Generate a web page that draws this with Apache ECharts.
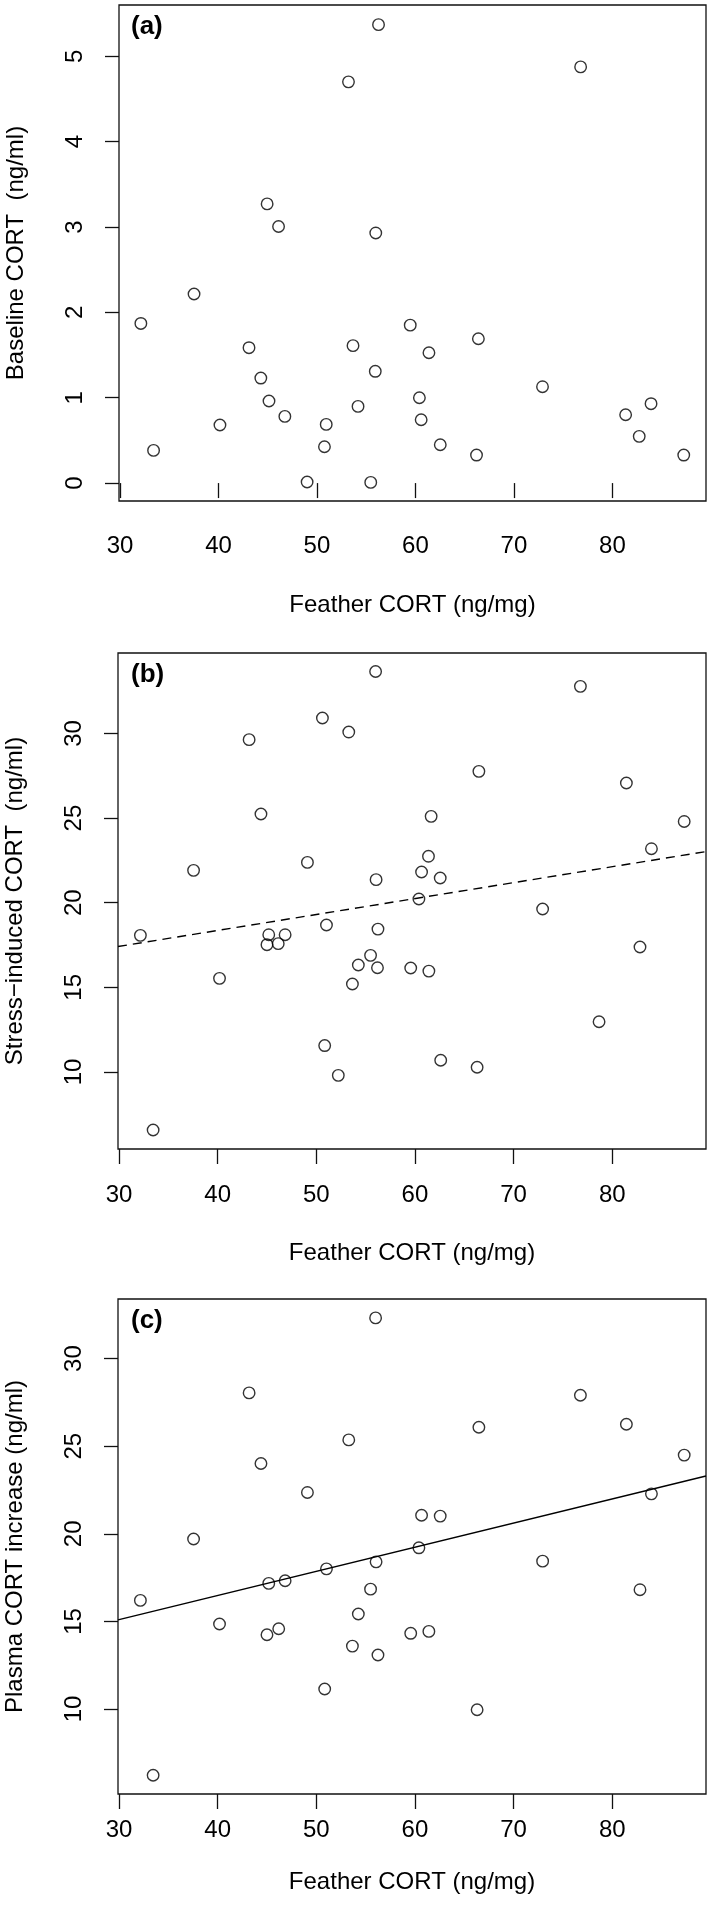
<!DOCTYPE html>
<html>
<head>
<meta charset="utf-8">
<script src="https://cdn.jsdelivr.net/npm/echarts@6/dist/echarts.min.js"></script>
<style>
html,body{margin:0;padding:0;background:#fff;}
#chart{width:709px;height:1917px;}
</style>
</head>
<body>
<div id="chart"></div>
<script>
// ---------- data ----------
const xTickValues = [30, 40, 50, 60, 70, 80];
const yTicksA = [0, 1, 2, 3, 4, 5];
const yTicksB = [10, 15, 20, 25, 30];
const yTicksC = [10, 15, 20, 25, 30];

// (a) Baseline CORT vs Feather CORT
const featherA  = [56.25, 53.2, 76.77, 44.94, 46.1, 55.97, 37.52, 32.12, 59.47, 66.39, 43.1, 53.66, 61.37, 55.92, 44.3, 72.9, 60.4, 45.13, 83.92, 54.17, 81.34, 46.74, 60.58, 40.15, 50.94, 50.76, 62.52, 82.72, 33.41, 66.2, 87.24, 49.0, 55.46];
const baselineA = [5.37, 4.70, 4.875, 3.27, 3.005, 2.93, 2.215, 1.87, 1.85, 1.69, 1.586, 1.61, 1.527, 1.309, 1.23, 1.129, 1.0, 0.961, 0.93, 0.898, 0.80, 0.781, 0.742, 0.68, 0.6875, 0.426, 0.449, 0.547, 0.383, 0.328, 0.328, 0.012, 0.008];

// (b) Stress-induced CORT vs Feather CORT
const featherB = [56.01, 76.77, 50.62, 53.29, 43.19, 66.48, 81.43, 44.39, 61.64, 87.29, 83.97, 61.37, 49.10, 37.56, 60.67, 62.56, 56.06, 60.40, 72.94, 51.03, 56.25, 32.17, 45.18, 46.84, 45.00, 46.14, 82.81, 55.50, 54.26, 56.20, 59.57, 61.41, 40.19, 53.66, 78.66, 50.85, 62.61, 66.30, 52.23, 33.46];
const stressB  = [33.66, 32.78, 30.91, 30.08, 29.63, 27.76, 27.07, 25.24, 25.10, 24.80, 23.19, 22.74, 22.38, 21.91, 21.81, 21.46, 21.36, 20.22, 19.63, 18.68, 18.44, 18.07, 18.11, 18.11, 17.52, 17.58, 17.38, 16.89, 16.32, 16.16, 16.14, 15.96, 15.53, 15.20, 12.97, 11.56, 10.69, 10.28, 9.80, 6.57];
const fitBx = [29.9, 89.5];
const fitBy = [17.41, 23.02];

// (c) Plasma CORT increase vs Feather CORT
const featherC  = [56.01, 43.19, 76.77, 81.43, 66.48, 53.29, 87.29, 44.39, 49.10, 83.97, 60.67, 62.56, 37.56, 60.40, 72.94, 56.06, 51.03, 45.18, 46.84, 55.50, 82.81, 32.17, 54.26, 40.19, 46.19, 45.00, 59.57, 61.41, 53.66, 56.25, 50.85, 66.30, 33.46];
const increaseC = [32.32, 28.04, 27.91, 26.25, 26.08, 25.36, 24.49, 24.01, 22.36, 22.28, 21.06, 21.01, 19.70, 19.20, 18.44, 18.40, 18.00, 17.17, 17.32, 16.84, 16.81, 16.20, 15.42, 14.85, 14.58, 14.24, 14.32, 14.43, 13.59, 13.08, 11.14, 9.96, 6.22];
const fitCx = [29.9, 89.5];
const fitCy = [15.09, 23.30];

const panelLabels = ['(a)', '(b)', '(c)'];
const xTitle = 'Feather CORT (ng/mg)';
const yTitles = ['Baseline CORT  (ng/ml)', 'Stress\u2212induced CORT  (ng/ml)', 'Plasma CORT increase (ng/ml)'];

// ---------- helpers ----------
const FONT = 'Liberation Sans, Arial, Helvetica, sans-serif';
const zip = (xs, ys) => xs.map((x, i) => [x, ys[i]]);

const grids = [
  {left: 119, top: 5,    width: 587, height: 496},
  {left: 118, top: 653,  width: 588, height: 496},
  {left: 118, top: 1299, width: 588, height: 495}
];
const yRanges = [[-0.21, 5.6], [5.45, 34.75], [5.15, 33.4]];
const yTickSets = [yTicksA, yTicksB, yTicksC];
const xLabelMargins = [33, 34, 24];
const xNameGaps = [92, 92, 76];

const option = {
  animation: false,
  backgroundColor: '#fff',
  title: grids.map((g, i) => ({
    text: panelLabels[i],
    left: 131,
    top: g.top + 9,
    padding: 0,
    textStyle: {fontFamily: FONT, fontSize: 26, fontWeight: 'bold', color: '#000'}
  })),
  grid: grids.map(g => Object.assign({
    show: true, borderColor: '#111', borderWidth: 1.3, backgroundColor: 'transparent',
    containLabel: false, outerBoundsMode: 'none'
  }, g)),
  xAxis: grids.map((g, i) => ({
    gridIndex: i, type: 'value', min: 29.9, max: 89.5,
    axisLine: {show: false},
    splitLine: {show: false},
    axisTick: {show: true, inside: false, length: 15, customValues: xTickValues,
               lineStyle: {color: '#111', width: 1.3}},
    axisLabel: {customValues: xTickValues, margin: xLabelMargins[i], fontSize: 24,
                fontFamily: FONT, color: '#000'},
    name: xTitle, nameLocation: 'middle', nameGap: xNameGaps[i],
    nameTextStyle: {fontFamily: FONT, fontSize: 24, color: '#000'}
  })),
  yAxis: grids.map((g, i) => ({
    gridIndex: i, type: 'value', min: yRanges[i][0], max: yRanges[i][1],
    axisLine: {show: false},
    splitLine: {show: false},
    axisTick: {show: true, inside: false, length: 14, customValues: yTickSets[i],
               lineStyle: {color: '#111', width: 1.3}},
    axisLabel: {customValues: yTickSets[i], rotate: 90, margin: 32, fontSize: 24,
                fontFamily: FONT, color: '#000'},
    name: yTitles[i], nameLocation: 'middle', nameGap: 91, nameRotate: 90,
    nameTextStyle: {fontFamily: FONT, fontSize: 24, color: '#000'}
  })),
  series: [
    {type: 'scatter', xAxisIndex: 0, yAxisIndex: 0, data: zip(featherA, baselineA)},
    {type: 'scatter', xAxisIndex: 1, yAxisIndex: 1, data: zip(featherB, stressB)},
    {type: 'scatter', xAxisIndex: 2, yAxisIndex: 2, data: zip(featherC, increaseC)},
    {type: 'line', xAxisIndex: 1, yAxisIndex: 1, data: zip(fitBx, fitBy), symbol: 'none',
     lineStyle: {color: '#000', width: 1.4, type: [9, 6]}, silent: true},
    {type: 'line', xAxisIndex: 2, yAxisIndex: 2, data: zip(fitCx, fitCy), symbol: 'none',
     lineStyle: {color: '#000', width: 1.4}, silent: true}
  ].map(s => s.type === 'scatter' ? Object.assign(s, {
      symbol: 'circle', symbolSize: 11.5,
      itemStyle: {color: 'rgba(0,0,0,0)', borderColor: '#000', borderWidth: 1.4},
      emphasis: {disabled: true}, silent: true, clip: false
    }) : s)
};

const chart = echarts.init(document.getElementById('chart'), null, {renderer: 'canvas'});
chart.setOption(option);
</script>
</body>
</html>
